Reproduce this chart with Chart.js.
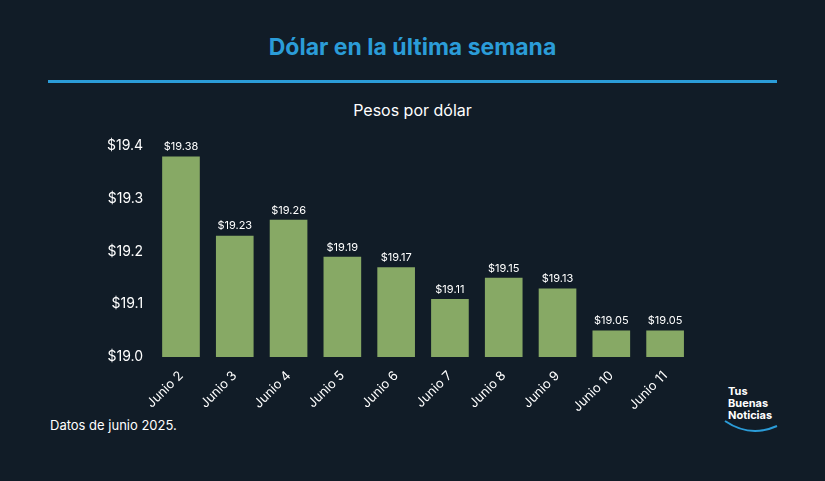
<!DOCTYPE html>
<html><head><meta charset="utf-8">
<script src="https://cdn.jsdelivr.net/npm/chart.js@4"></script>
<style>
html,body{margin:0;padding:0;background:#111c27;width:825px;height:481px;overflow:hidden;font-family:Inter,"Open Sans",sans-serif}
#c{position:absolute;left:0;top:0}
.t{position:absolute;left:0;width:825px;text-align:center}
</style></head><body>
<div class="t" style="top:33px;color:#2b9cd8;font-size:23px;font-weight:700">Dólar en la última semana</div>
<div style="position:absolute;left:48px;top:80px;width:729px;height:3px;background:#2b9cd8"></div>
<div class="t" style="top:100px;color:#fff;font-size:16px">Pesos por dólar</div>
<div style="position:absolute;left:50px;top:417px;color:#fff;font-size:13px">Datos de junio 2025.</div>
<div style="position:absolute;left:728px;top:385px;color:#fff;font-size:11px;font-weight:700;line-height:12px">Tus<br>Buenas<br>Noticias</div>
<svg style="position:absolute;left:722px;top:418px" width="60" height="16"><path d="M3 3 Q28 20 55 8" stroke="#2b9cd8" stroke-width="2" fill="none"/></svg>
<canvas id="c" width="825" height="481"></canvas>
<script>
const categories=["Junio 2","Junio 3","Junio 4","Junio 5","Junio 6","Junio 7","Junio 8","Junio 9","Junio 10","Junio 11"];
const values=[19.38,19.23,19.26,19.19,19.17,19.11,19.15,19.13,19.05,19.05];
const labelsPlugin={id:'vl',afterDatasetsDraw(ch){const ctx=ch.ctx;const m=ch.getDatasetMeta(0);ctx.save();ctx.fillStyle='#fff';ctx.font='11px Inter';ctx.textAlign='center';ctx.textBaseline='bottom';
m.data.forEach((b,i)=>ctx.fillText('$'+values[i].toFixed(2),b.x,b.y-4));ctx.restore();}};
new Chart(document.getElementById('c'),{type:'bar',
data:{labels:categories,datasets:[{data:values,backgroundColor:'#87a965',barPercentage:0.7,categoryPercentage:1}]},
options:{responsive:false,animation:false,layout:{padding:{left:104,right:133,top:146,bottom:63}},
plugins:{legend:{display:false},tooltip:{enabled:false}},
scales:{y:{min:19.0,max:19.4,ticks:{stepSize:0.1,color:'#fff',font:{size:14,family:'Inter'},callback:v=>'$'+v.toFixed(1)},grid:{display:false},border:{display:false}},
x:{ticks:{color:'#fff',font:{size:13,family:'Inter'},minRotation:45,maxRotation:45},grid:{display:false},border:{display:false}}}},
plugins:[labelsPlugin]});
</script></body></html>
